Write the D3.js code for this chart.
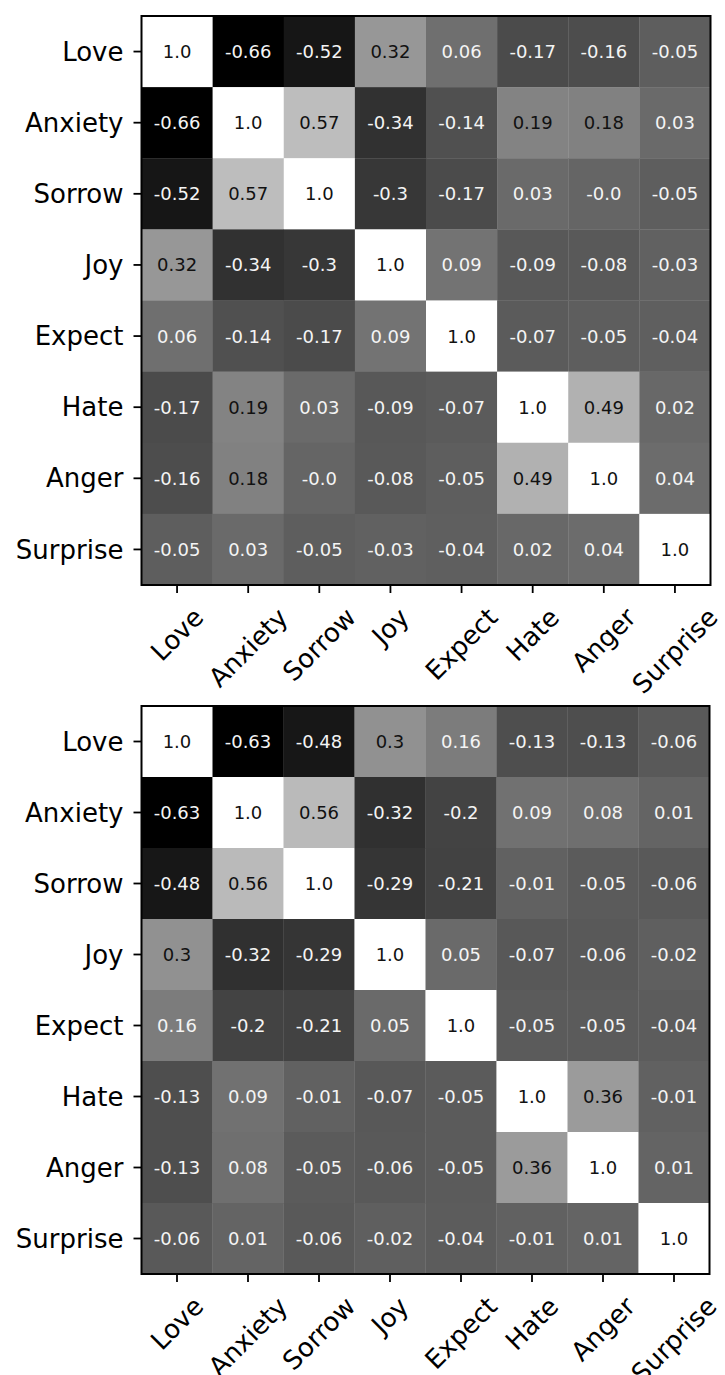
<!DOCTYPE html>
<html>
<head>
<meta charset="utf-8">
<script src="https://cdn.jsdelivr.net/npm/d3@7"></script>
<style>
  html, body { margin: 0; padding: 0; background: #ffffff; }
  svg { display: block; }
  text { font-family: "DejaVu Sans", sans-serif; }
</style>
</head>
<body>
<svg id="chart" width="725" height="1375"></svg>
<script>
// Emotion categories shared by both matrices
const emotions = ["Love", "Anxiety", "Sorrow", "Joy", "Expect", "Hate", "Anger", "Surprise"];

// Correlation matrix, first panel
const corrTop = [
  [1.0, -0.66, -0.52, 0.32, 0.06, -0.17, -0.16, -0.05],
  [-0.66, 1.0, 0.57, -0.34, -0.14, 0.19, 0.18, 0.03],
  [-0.52, 0.57, 1.0, -0.3, -0.17, 0.03, -0.0, -0.05],
  [0.32, -0.34, -0.3, 1.0, 0.09, -0.09, -0.08, -0.03],
  [0.06, -0.14, -0.17, 0.09, 1.0, -0.07, -0.05, -0.04],
  [-0.17, 0.19, 0.03, -0.09, -0.07, 1.0, 0.49, 0.02],
  [-0.16, 0.18, -0.0, -0.08, -0.05, 0.49, 1.0, 0.04],
  [-0.05, 0.03, -0.05, -0.03, -0.04, 0.02, 0.04, 1.0]
];

// Correlation matrix, second panel
const corrBottom = [
  [1.0, -0.63, -0.48, 0.3, 0.16, -0.13, -0.13, -0.06],
  [-0.63, 1.0, 0.56, -0.32, -0.2, 0.09, 0.08, 0.01],
  [-0.48, 0.56, 1.0, -0.29, -0.21, -0.01, -0.05, -0.06],
  [0.3, -0.32, -0.29, 1.0, 0.05, -0.07, -0.06, -0.02],
  [0.16, -0.2, -0.21, 0.05, 1.0, -0.05, -0.05, -0.04],
  [-0.13, 0.09, -0.01, -0.07, -0.05, 1.0, 0.36, -0.01],
  [-0.13, 0.08, -0.05, -0.06, -0.05, 0.36, 1.0, 0.01],
  [-0.06, 0.01, -0.06, -0.02, -0.04, -0.01, 0.01, 1.0]
];

const svg = d3.select("#chart");

// Format like Python's str(round(v, 2)): 1.0, -0.0, 0.3, -0.66
function fmt(v) {
  const neg = v < 0 || Object.is(v, -0);
  const a = Math.abs(v);
  const s = Number.isInteger(a) ? a.toFixed(1) : String(a);
  return (neg ? "-" : "") + s;
}

function drawHeatmap(matrix, left, top, size) {
  const g = svg.append("g").attr("transform", `translate(${left},${top})`);

  const x = d3.scaleBand().domain(emotions).range([0, size]);
  const y = d3.scaleBand().domain(emotions).range([0, size]);

  const flat = matrix.flat();
  const lo = d3.min(flat), hi = d3.max(flat);
  const norm = d3.scaleLinear().domain([lo, hi]).range([0, 1]);
  const color = d3.scaleLinear().domain([lo, hi]).range(["#000000", "#ffffff"]);

  const cells = [];
  matrix.forEach((row, i) => row.forEach((v, j) => cells.push({ r: emotions[i], c: emotions[j], v })));

  g.selectAll("rect.cell")
    .data(cells)
    .join("rect")
    .attr("class", "cell")
    .attr("x", d => x(d.c))
    .attr("y", d => y(d.r))
    .attr("width", x.bandwidth() + 0.3)
    .attr("height", y.bandwidth() + 0.3)
    .attr("fill", d => color(d.v));

  g.selectAll("text.annot")
    .data(cells)
    .join("text")
    .attr("class", "annot")
    .attr("x", d => x(d.c) + x.bandwidth() / 2)
    .attr("y", d => y(d.r) + y.bandwidth() / 2)
    .attr("text-anchor", "middle")
    .attr("dominant-baseline", "central")
    .attr("font-size", 18)
    .attr("fill", d => norm(d.v) < 0.5 ? "#f4f4f4" : "#111111")
    .text(d => fmt(d.v));

  // Frame
  g.append("rect")
    .attr("x", 0).attr("y", 0)
    .attr("width", size).attr("height", size)
    .attr("fill", "none")
    .attr("stroke", "#000")
    .attr("stroke-width", 2);

  const fs = 26;

  // Left axis
  const yAxis = g.append("g")
    .call(d3.axisLeft(y).tickSize(8).tickSizeOuter(0).tickPadding(10));
  yAxis.select(".domain").remove();
  yAxis.selectAll(".tick line").attr("stroke", "#000").attr("stroke-width", 1.8);
  yAxis.selectAll(".tick text")
    .attr("font-size", fs)
    .attr("font-family", "DejaVu Sans, sans-serif")
    .attr("fill", "#000")
    .attr("dy", "0.35em");

  // Bottom axis with labels rotated 45°, centred on the tick
  const xAxis = g.append("g")
    .attr("transform", `translate(0,${size})`)
    .call(d3.axisBottom(x).tickSize(8).tickSizeOuter(0));
  xAxis.select(".domain").remove();
  xAxis.selectAll(".tick line").attr("stroke", "#000").attr("stroke-width", 1.8);
  const lineH = fs * 1.164;
  xAxis.selectAll(".tick text")
    .attr("font-size", fs)
    .attr("font-family", "DejaVu Sans, sans-serif")
    .attr("fill", "#000")
    .attr("text-anchor", "middle")
    .attr("dominant-baseline", "central")
    .attr("dy", null)
    .each(function () {
      const w = this.getComputedTextLength();
      const h = (w + lineH) * Math.SQRT1_2;
      const cy = 8 + 9 + h / 2;
      d3.select(this)
        .attr("x", 0)
        .attr("y", cy)
        .attr("transform", `rotate(-45,0,${cy})`);
    });
}

drawHeatmap(corrTop, 141.5, 16, 569);
drawHeatmap(corrBottom, 141.5, 706, 568);
</script>
</body>
</html>
